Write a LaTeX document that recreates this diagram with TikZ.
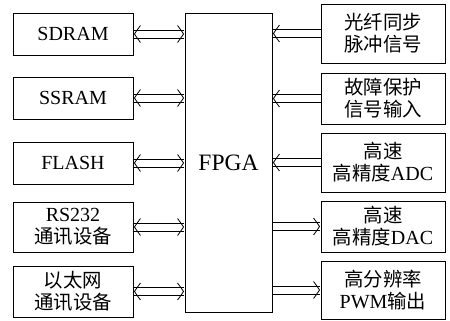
\documentclass[tikz,border=0pt]{standalone}
\usepackage{fontspec}
\setmainfont{Liberation Serif}
\newfontfamily\cjk{Noto Sans CJK SC}[Scale=0.97]
\usetikzlibrary{calc}
\begin{document}
\begin{tikzpicture}[x=1pt,y=-1pt,
  blk/.style={draw, line width=0.9pt, inner sep=0pt, align=center, font=\fontsize{20}{22}\selectfont},
  ln/.style={line width=0.8pt}]
\useasboundingbox (0,0) rectangle (450,321);
\newcommand{\dline}[2]{%
  \draw[ln] ($(#1)+(0,-4)$) -- ($(#2)+(0,-4)$);
  \draw[ln] ($(#1)+(0,4)$) -- ($(#2)+(0,4)$);}
\newcommand{\tipW}[1]{%
  \draw[ln] ($(#1)+(6,-8.5)$) .. controls ($(#1)+(2,-3)$) .. (#1) .. controls ($(#1)+(2,3)$) .. ($(#1)+(6,8.5)$);}
\newcommand{\tipE}[1]{%
  \draw[ln] ($(#1)+(-6,-8.5)$) .. controls ($(#1)+(-2,-3)$) .. (#1) .. controls ($(#1)+(-2,3)$) .. ($(#1)+(-6,8.5)$);}
\node[blk, minimum width=120pt, minimum height=42pt] (l1) at (73,34) {SDRAM};
\node[blk, minimum width=120pt, minimum height=42pt] (l2) at (73,98) {SSRAM};
\node[blk, minimum width=120pt, minimum height=42pt] (l3) at (73,163) {FLASH};
\node[blk, minimum width=120pt, minimum height=50pt] (l4) at (73,227) {RS232\\{\cjk 通讯设备}};
\node[blk, minimum width=120pt, minimum height=51pt] (l5) at (73,291.5) {{\cjk 以太网}\\{\cjk 通讯设备}};
\node[blk, minimum width=87pt, minimum height=299pt, font=\fontsize{23.5}{26}\selectfont] (fpga) at (228.5,162.5) {FPGA};
\node[blk, minimum width=124pt, minimum height=59pt] (r1) at (383,33.5) {{\cjk 光纤同步}\\{\cjk 脉冲信号}};
\node[blk, minimum width=124pt, minimum height=51pt] (r2) at (383,98.5) {{\cjk 故障保护}\\{\cjk 信号输入}};
\node[blk, minimum width=124pt, minimum height=59pt] (r3) at (383,162.5) {{\cjk 高速}\\{\cjk 高精度}ADC};
\node[blk, minimum width=124pt, minimum height=51pt] (r4) at (383,226.5) {{\cjk 高速}\\{\cjk 高精度}DAC};
\node[blk, minimum width=124pt, minimum height=58pt] (r5) at (383,290) {{\cjk 高分辨率}\\PWM{\cjk 输出}};
\foreach \n in {l1,l2,l3,l4,l5}{
  \coordinate (\n a) at ($(\n.east)+(1,0)$);
  \coordinate (\n b) at ($(\n.east -| fpga.west)+(-1,0)$);
  \dline{\n a}{\n b}
  \tipW{\n a}
  \tipE{\n b}
}
\foreach \n in {r1,r2,r3}{
  \coordinate (\n a) at ($(\n.west -| fpga.east)+(1,0)$);
  \coordinate (\n b) at (\n.west);
  \dline{\n a}{\n b}
  \tipW{\n a}
}
\foreach \n in {r4,r5}{
  \coordinate (\n a) at (\n.west -| fpga.east);
  \coordinate (\n b) at ($(\n.west)+(-1,0)$);
  \dline{\n a}{\n b}
  \tipE{\n b}
}
\end{tikzpicture}
\end{document}
